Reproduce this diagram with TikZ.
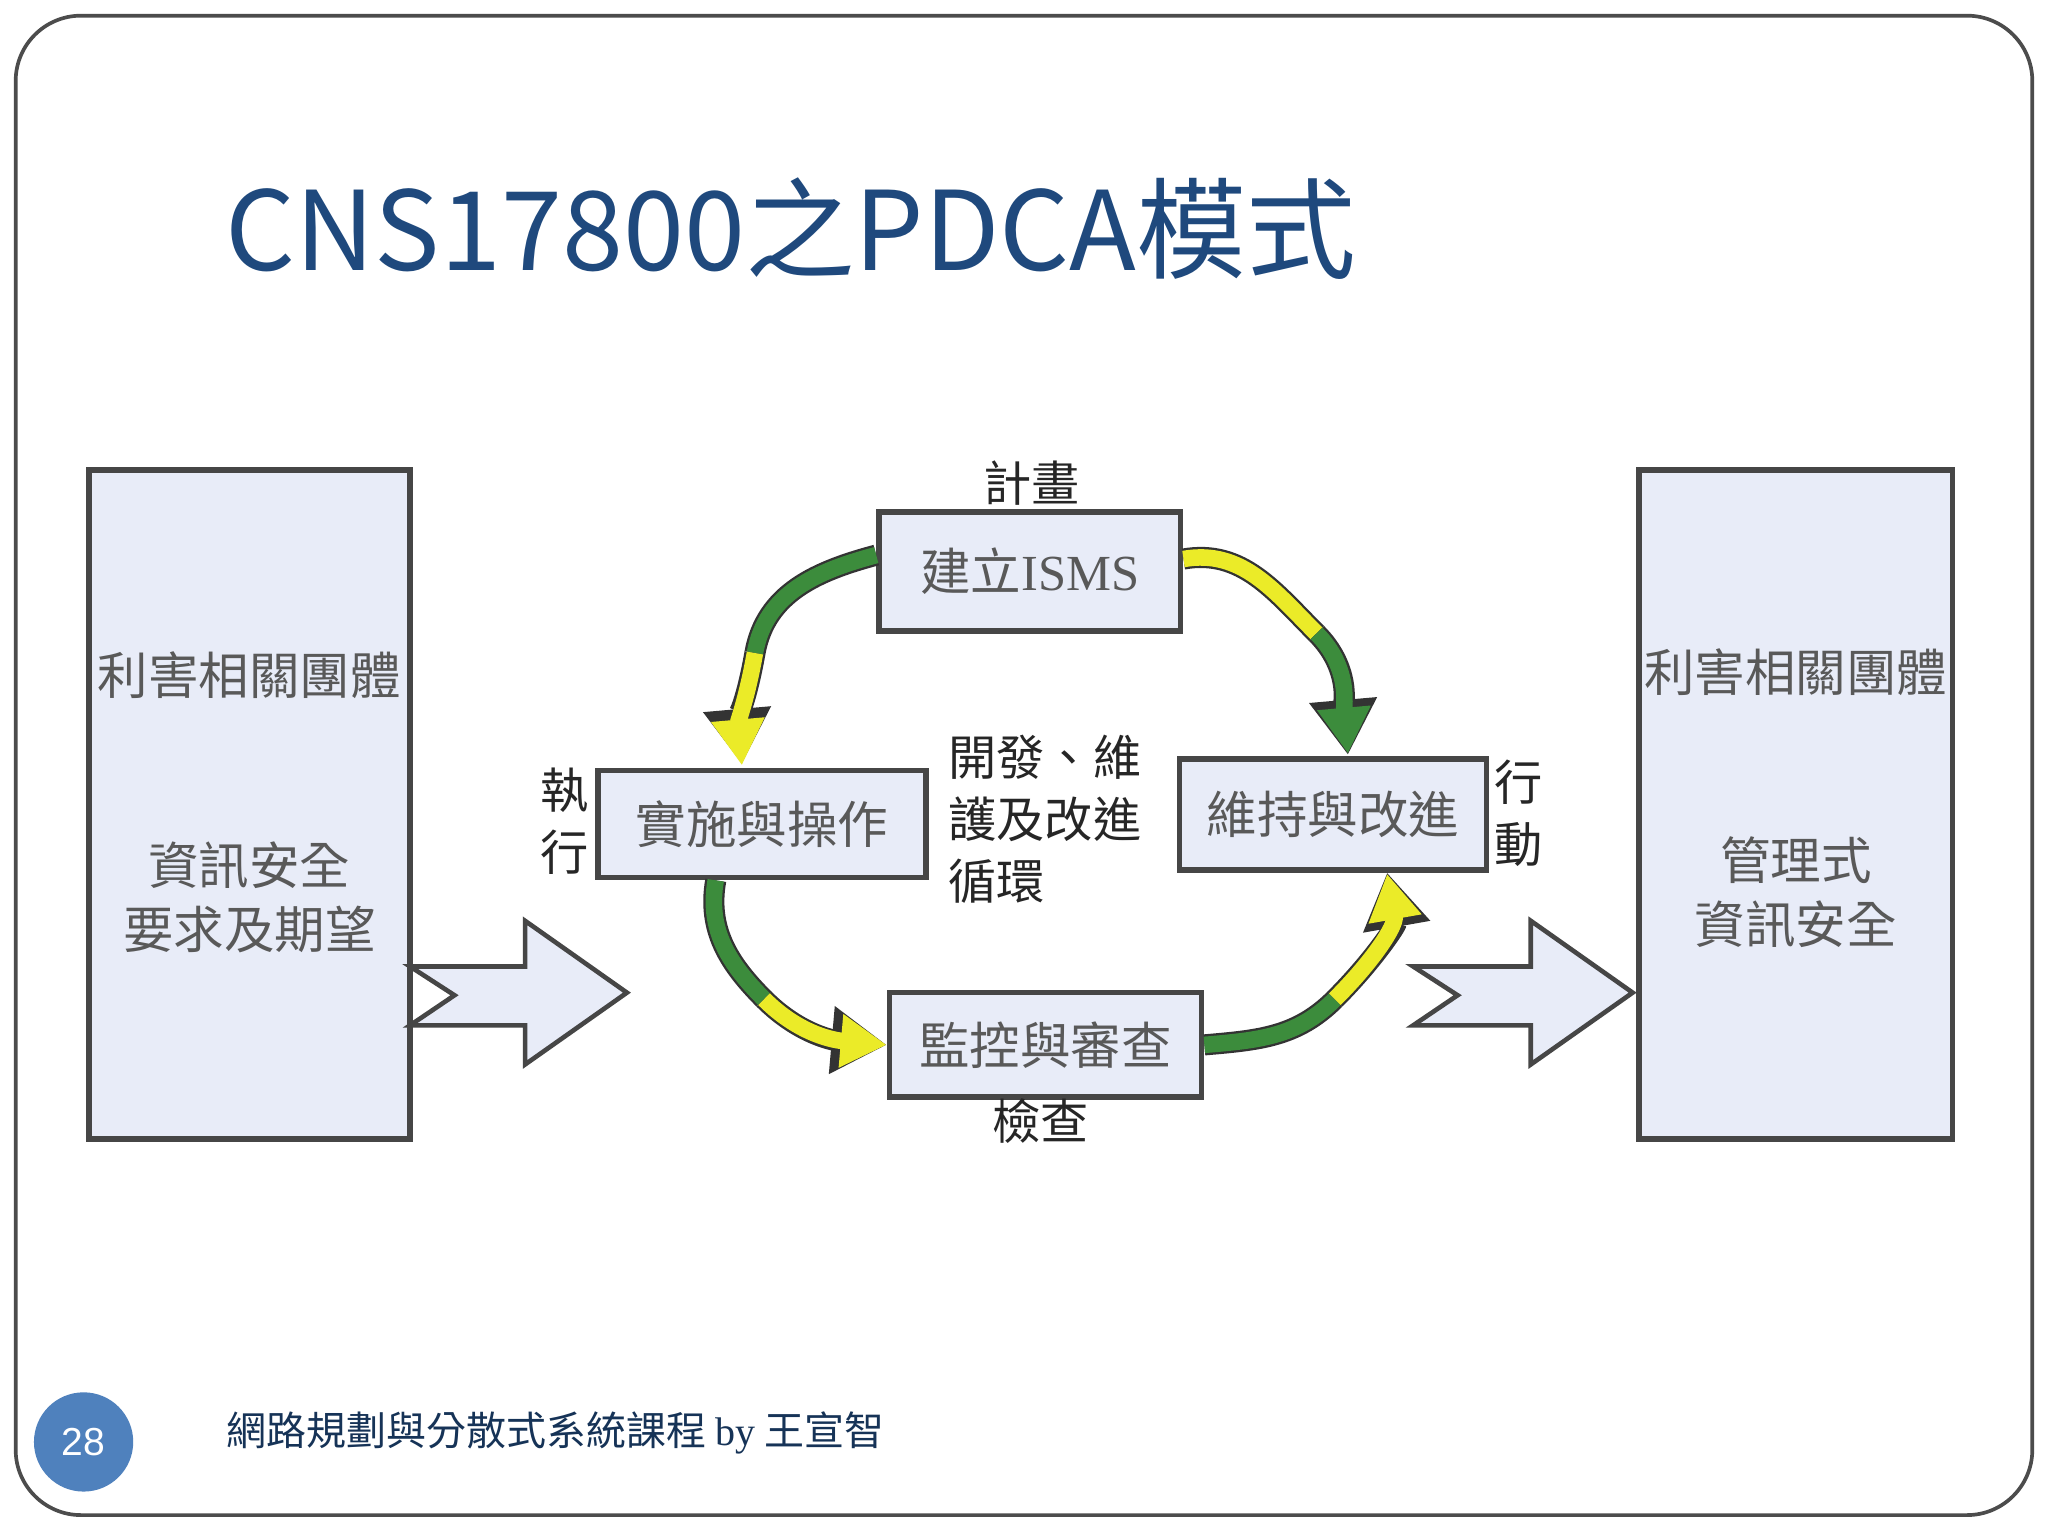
\documentclass[tikz,border=0pt]{standalone}
\usepackage{fontspec}
\usetikzlibrary{arrows.meta}
\newfontfamily\cjk{Noto Sans CJK TC}
\newfontfamily\serifl{Liberation Serif}
\definecolor{titleblue}{RGB}{31,73,125}
\definecolor{boxfill}{RGB}{232,236,248}
\definecolor{boxline}{RGB}{70,70,70}
\definecolor{ggreen}{RGB}{60,140,60}
\definecolor{gyellow}{RGB}{235,235,40}
\definecolor{footblue}{RGB}{79,129,189}
\tikzset{
 pbox/.style={draw=boxline,line width=1.2pt,fill=boxfill,inner sep=0pt},
 btxt/.style={font=\cjk\fontsize{11}{13}\selectfont,text=black!65},
 lbl/.style={font=\cjk\fontsize{10.5}{13.5}\selectfont,text=black!85,align=left},
 bigarrow/.style={draw=boxline,line width=1pt,fill=boxfill},
 cyc/.style={line width=3.6pt},
 cout/.style={line width=4.6pt,black!80}
}
\begin{document}
\begin{tikzpicture}[x=0.01cm,y=-0.01cm]
\useasboundingbox (0,0) rectangle (1568,1176);
\fill[white] (0,0) rectangle (1568,1176);
\draw[black!70,line width=0.8pt,rounded corners=0.5cm] (12,12) rectangle (1556,1160);
\node[anchor=base west,inner sep=0pt,text=titleblue,font=\cjk\fontsize{23.9}{28}\selectfont] (title) at (172,207) {CNS17800之PDCA模式};
% side boxes
\node[pbox,minimum width=246*0.01cm,minimum height=512*0.01cm] (lbox) at (191,616) {};
\node[pbox,minimum width=240*0.01cm,minimum height=512*0.01cm] (rbox) at (1375,616) {};
\node[btxt] (l1) at (191,517) {利害相關團體};
\node[btxt,align=center,font=\cjk\fontsize{11}{14}\selectfont] (l2) at (191,687) {資訊安全\\要求及期望};
\node[btxt] (r1) at (1375,515) {利害相關團體};
\node[btxt,align=center,font=\cjk\fontsize{11}{14}\selectfont] (r2) at (1375,683) {管理式\\資訊安全};
% big arrows
\coordinate (la) at (314,740);
\draw[bigarrow] (la) -- (402,740) -- (402,705) -- (480,760) -- (402,815) -- (402,785) -- (314,785) -- (348,762) -- cycle;
\coordinate (ra) at (1082,740);
\draw[bigarrow] (ra) -- (1172,740) -- (1172,705) -- (1250,760) -- (1172,815) -- (1172,785) -- (1082,785) -- (1116,762) -- cycle;
% cycle boxes
\node[pbox,minimum width=231*0.01cm,minimum height=91*0.01cm] (plan) at (788.5,437.5) {};
\node[btxt] at (plan) {建立{\serifl ISMS}};
\node[pbox,minimum width=251*0.01cm,minimum height=82*0.01cm] (do) at (583.5,631) {};
\node[btxt] at (do) {實施與操作};
\node[pbox,minimum width=235*0.01cm,minimum height=85*0.01cm] (act) at (1020.5,623.5) {};
\node[btxt] at (act) {維持與改進};
\node[pbox,minimum width=239*0.01cm,minimum height=80*0.01cm] (chk) at (800.5,800) {};
\node[btxt] at (chk) {監控與審查};
% labels
\node[lbl] (lp) at (790,370) {計畫};
\node[lbl,align=center] (ld) at (432,629) {執\\行};
\node[lbl] (lc) at (800,627) {開發、維\\護及改進\\循環};
\node[lbl,align=center] (la2) at (1163,623) {行\\動};
\node[lbl] (lk) at (797,858) {檢查};
% cycle arrows
\coordinate (a1) at (578,500);
\coordinate (a2) at (585,765);
\coordinate (a3) at (1022,765);
\coordinate (a4) at (1008,485);
% top-left: plan -> do
\draw[cout] (plan.west|-0,425) to[out=195,in=80] (a1);
\draw[cyc,ggreen] (plan.west|-0,425) to[out=195,in=80] (a1);
\draw[cout,-{Triangle[length=12pt,width=14pt]}] (a1) to[out=-100,in=95] (568,585);
\draw[cyc,gyellow,-{Triangle[length=10pt,width=11pt]}] (a1) to[out=-100,in=95] (568,586);
% bottom-left: do -> check
\draw[cout] (548,674) to[out=-100,in=135] (a2);
\draw[cyc,ggreen] (548,674) to[out=-100,in=135] (a2);
\draw[cout,-{Triangle[length=12pt,width=14pt]}] (a2) to[out=-45,in=175] (chk.west);
\draw[cyc,gyellow,-{Triangle[length=10pt,width=11pt]}] (a2) to[out=-45,in=175] (chk.west);
% bottom-right: check -> act
\draw[cout] (chk.east) to[out=5,in=-135] (a3);
\draw[cyc,ggreen] (chk.east) to[out=5,in=-135] (a3);
\draw[cout,-{Triangle[length=12pt,width=14pt]}] (a3) to[out=45,in=-80] (1062,668);
\draw[cyc,gyellow,-{Triangle[length=10pt,width=11pt]}] (a3) to[out=45,in=-80] (1062,669);
% top-right: plan -> act (green head)
\draw[cout] (plan.east|-0,428) to[out=10,in=135] (a4);
\draw[cyc,gyellow] (plan.east|-0,428) to[out=10,in=135] (a4);
\draw[cout,-{Triangle[length=12pt,width=14pt]}] (a4) to[out=-45,in=95] (1032,578);
\draw[cyc,ggreen,-{Triangle[length=10pt,width=11pt]}] (a4) to[out=-45,in=95] (1032,577);
% footer
\node[circle,fill=footblue,minimum size=76*0.01cm,inner sep=0pt,text=white,font=\fontspec{Liberation Sans}\fontsize{8.5}{10}\selectfont] (pg) at (64,1104) {28};
\node[anchor=west,inner sep=0pt,text=titleblue!70!black,font=\cjk\fontsize{8.7}{10}\selectfont] (foot) at (173,1097) {網路規劃與分散式系統課程 {\serifl by} 王宣智};
\end{tikzpicture}
\end{document}
